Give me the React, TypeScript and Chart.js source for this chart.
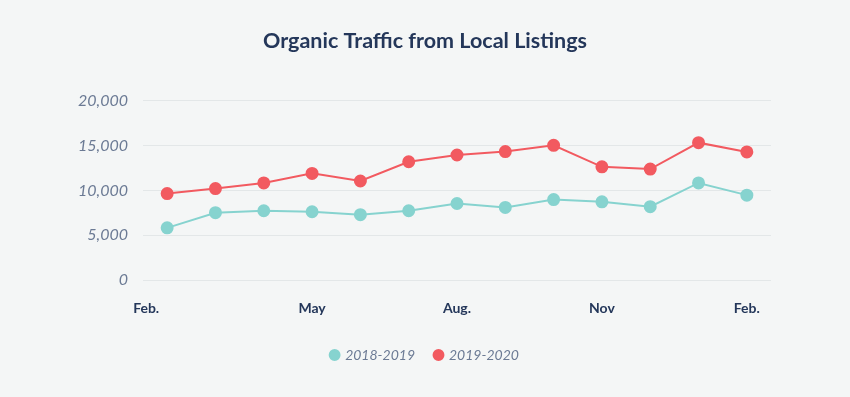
import React, { useEffect, useRef } from "react";
import { Chart, registerables } from "chart.js";

Chart.register(...registerables);

const months = ["Feb", "Mar", "Apr", "May", "Jun", "Jul", "Aug", "Sep", "Oct", "Nov", "Dec", "Jan", "Feb"];
const tickLabels = ["Feb.\u2002\u2002\u2002\u2002\u2002\u2002", "", "", "May", "", "", "Aug.", "", "", "Nov", "", "", "Feb."];
const series2018 = [5820, 7510, 7730, 7620, 7290, 7730, 8540, 8100, 8980, 8730, 8180, 10830, 9470];
const series2019 = [9650, 10200, 10830, 11900, 11050, 13200, 13950, 14330, 15030, 12630, 12380, 15330, 14290];
const yTicks = [0, 5000, 10000, 15000, 20000];

const TEAL = "#86d3cf";
const RED = "#f25a60";
const NAVY = "#24375a";
const GRAYBLUE = "#6b7a94";

export default function App() {
  const ref = useRef<HTMLCanvasElement | null>(null);
  useEffect(() => {
    document.body.style.margin = "0";
    const chart = new Chart(ref.current as HTMLCanvasElement, {
      type: "line",
      data: {
        labels: months,
        datasets: [
          {
            label: "2018-2019",
            data: series2018,
            borderColor: TEAL,
            backgroundColor: TEAL,
            pointBackgroundColor: TEAL,
            pointBorderColor: TEAL,
            pointRadius: 5.5,
            borderWidth: 2,
            tension: 0,
          },
          {
            label: "2019-2020",
            data: series2019,
            borderColor: RED,
            backgroundColor: RED,
            pointBackgroundColor: RED,
            pointBorderColor: RED,
            pointRadius: 5.5,
            borderWidth: 2,
            tension: 0,
          },
        ],
      },
      options: {
        animation: false,
        responsive: false,
        maintainAspectRatio: false,
        layout: { padding: { left: 0, right: 0, top: 0, bottom: 25 } },
        plugins: {
          title: {
            display: true,
            text: "Organic Traffic from Local Listings",
            color: NAVY,
            font: { family: "Lato", size: 21.5, weight: "bold" },
            padding: { top: 28, bottom: 47 },
          },
          legend: {
            position: "bottom",
            labels: {
              usePointStyle: true,
              pointStyle: "circle",
              boxWidth: 7,
              boxHeight: 7,
              color: GRAYBLUE,
              font: { family: "Lato", size: 14, style: "italic" },
              padding: 20,
            },
          },
          tooltip: { enabled: false },
        },
        scales: {
          x: {
            offset: true,
            afterFit: (s: any) => {
              s.height = 48;
            },
            grid: { display: false, drawTicks: false },
            border: { display: false },
            ticks: {
              autoSkip: false,
              maxRotation: 0,
              padding: 20,
              color: NAVY,
              font: { family: "Lato", size: 14, weight: "bold" },
              callback: (_v: any, i: number) => tickLabels[i],
            },
          },
          y: {
            min: 0,
            max: 20000,
            afterFit: (s: any) => {
              s.width = 143;
            },
            afterBuildTicks: (s: any) => {
              s.ticks = yTicks.map((v) => ({ value: v }));
            },
            grid: { color: "#e3e7e8", lineWidth: 1, drawTicks: false },
            border: { display: false },
            ticks: {
              padding: 15,
              color: GRAYBLUE,
              font: { family: "Lato", size: 16, style: "italic" },
              callback: (v: any) => Number(v).toLocaleString("en-US"),
            },
          },
          yRight: {
            position: "right",
            display: true,
            afterFit: (s: any) => {
              s.width = 79;
            },
            grid: { display: false, drawTicks: false },
            border: { display: false },
            ticks: { display: false },
          },
        },
      },
    });
    return () => chart.destroy();
  }, []);
  return (
    <div style={{ position: "absolute", left: 0, top: 0, width: 850, height: 397, background: "#f4f6f6" }}>
      <canvas ref={ref} width={850} height={397} style={{ width: 850, height: 397, display: "block" }} />
    </div>
  );
}
